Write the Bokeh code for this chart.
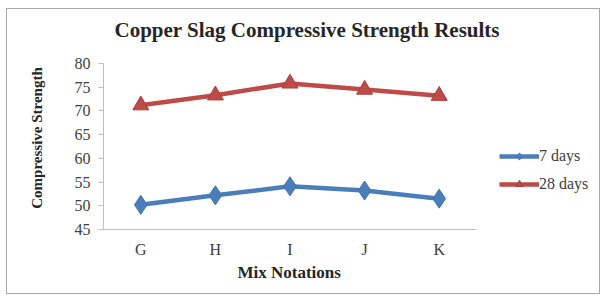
from bokeh.plotting import figure
from bokeh.models import Range1d, Legend, LegendItem, FixedTicker, Title
from bokeh.embed import file_html
from bokeh.resources import INLINE

mixes = ["G", "H", "I", "J", "K"]
days7 = [50.2, 52.2, 54.1, 53.2, 51.5]
days28 = [71.2, 73.3, 75.8, 74.5, 73.2]
yticks = [45, 50, 55, 60, 65, 70, 75, 80]

FONT = "Liberation Serif"
xs = list(range(len(mixes)))

W, H = 594, 286
LEFT, TOP, BOTTOM = 96, 37, 66
frame_w = W - LEFT
frame_h = H - TOP - BOTTOM
cat_px = 74.6
x_end = len(mixes) - 0.5 + (frame_w - cat_px * len(mixes)) / cat_px
axis_px = 166  # pixel height of the 45..80 axis
y_end = yticks[0] + (yticks[-1] - yticks[0]) * frame_h / axis_px

p = figure(width=W, height=H, output_backend="svg", toolbar_location=None,
           x_range=Range1d(-0.5, x_end), y_range=Range1d(yticks[0], y_end),
           min_border=0, min_border_left=LEFT, min_border_right=0,
           min_border_top=TOP, min_border_bottom=BOTTOM)
p.styles = {"border": "1px solid #A8A8A8", "margin-left": "6px", "margin-top": "8px"}
p.outline_line_color = None
p.border_fill_color = "white"
p.background_fill_color = "white"
p.xgrid.grid_line_color = None
p.ygrid.grid_line_color = None

l7 = p.line(xs, days7, line_color="#4A7EBB", line_width=4.5)
m7 = p.scatter(xs, days7, marker="diamond", size=19, fill_color="#4A7EBB", line_color="#3F72AE")
l28 = p.line(xs, days28, line_color="#BE4B48", line_width=4.5)
m28 = p.scatter(xs, days28, marker="triangle", size=16, fill_color="#BE4B48", line_color="#A83F3C")

p.yaxis.ticker = yticks
p.yaxis.bounds = (yticks[0], yticks[-1])
p.yaxis.axis_line_color = "#BFBFBF"
p.yaxis.major_tick_line_color = "#BFBFBF"
p.yaxis.major_tick_out = 5
p.yaxis.major_tick_in = 0
p.yaxis.minor_tick_line_color = None
p.yaxis.major_label_text_font = FONT
p.yaxis.major_label_text_font_size = "16px"
p.yaxis.major_label_text_color = "#404040"
p.yaxis.major_label_standoff = 8
p.yaxis.axis_label = "Compressive Strength"
p.yaxis.axis_label_text_font = FONT
p.yaxis.axis_label_text_font_style = "bold"
p.yaxis.axis_label_text_font_size = "15px"
p.yaxis.axis_label_text_color = "#262626"
p.yaxis.axis_label_standoff = 27

p.xaxis.ticker = FixedTicker(ticks=xs)
p.xaxis.major_label_overrides = {i: m for i, m in zip(xs, mixes)}
p.xaxis.bounds = (-0.5, len(mixes) - 0.5)
p.xaxis.axis_line_color = "#BFBFBF"
p.xaxis.major_tick_line_color = None
p.xaxis.minor_tick_line_color = None
p.xaxis.major_label_text_font = FONT
p.xaxis.major_label_text_font_size = "16px"
p.xaxis.major_label_text_color = "#404040"
p.xaxis.major_label_standoff = 5

xlabel = Title(text="Mix Notations", text_font=FONT, text_font_style="bold",
               text_font_size="17px", text_color="#262626", align="left",
               offset=134, standoff=0)
p.add_layout(xlabel, "below")

p.title.text = "Copper Slag Compressive Strength Results"
p.title.text_font = FONT
p.title.text_font_style = "bold"
p.title.text_font_size = "21px"
p.title.text_color = "#262626"
p.title.align = "left"
p.title.offset = 11
p.title.standoff = 10

legend = Legend(items=[LegendItem(label="7 days", renderers=[l7, m7]),
                       LegendItem(label="28 days", renderers=[l28, m28])],
                location=(396, 36), glyph_width=40, glyph_height=18, spacing=10,
                label_text_font=FONT, label_text_font_size="16px", label_text_color="#404040",
                border_line_color=None, background_fill_alpha=0, padding=0, margin=0,
                label_standoff=0)
p.add_layout(legend)

open("out.html", "w").write(file_html(p, INLINE))
